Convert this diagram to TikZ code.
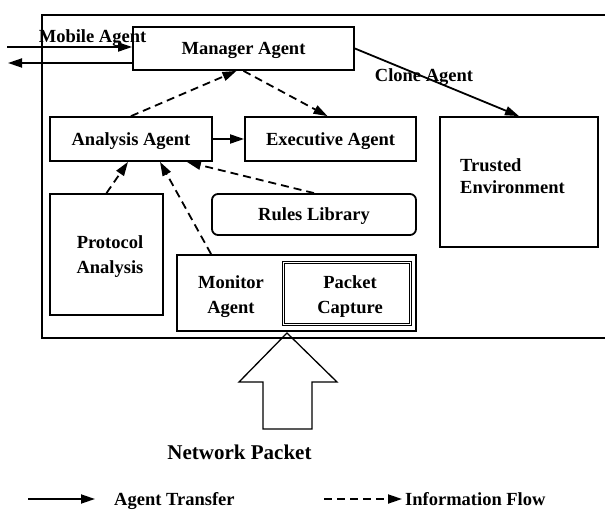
\documentclass[tikz,border=0pt]{standalone}
\usepackage{fontspec}
\setmainfont{Liberation Serif}
\usetikzlibrary{arrows.meta}
\newcommand\diagfont{\fontsize{18.5}{22}\selectfont\bfseries}
\begin{document}
\begin{tikzpicture}[x=1pt,y=-1pt,
  box/.style={draw, line width=1.8pt, inner sep=0pt, font=\diagfont,
              text height=12.5pt, text depth=0pt},
  lbl/.style={font=\diagfont, inner sep=0pt},
  twoline/.style={font=\fontsize{18.5}{24.8}\selectfont\bfseries, align=center, inner sep=0pt},
  transfer/.style={line width=1.8pt, -{Triangle[length=14pt,width=9pt]}},
  infoflow/.style={transfer, dash pattern=on 8pt off 5pt},
]
\path[use as bounding box, clip] (0,0) rectangle (605,510);

% system frame, open towards the right
\draw[line width=1.8pt] (42,15) rectangle (640,338);

% agents and components
\node[box, minimum width=221pt, minimum height=43pt] (manager) at (243.5,48.5) {Manager Agent};
\node[box, minimum width=162pt, minimum height=44pt] (analysis) at (131,139) {Analysis Agent};
\node[box, minimum width=171pt, minimum height=44pt] (executive) at (330.5,139) {Executive Agent};
\node[box, minimum width=158pt, minimum height=130pt] (trusted) at (519,182) {};
\node[twoline, align=left, anchor=west, font=\fontsize{18.5}{21.6}\selectfont\bfseries]
  (trustedtext) at (460,176.3) {Trusted\\Environment};
\node[box, minimum width=113pt, minimum height=121pt] (protocol) at (106.5,254.5) {};
\node[twoline] (protocoltext) at (110,256.7) {Protocol\\Analysis};
\node[box, rounded corners=6pt, minimum width=204pt, minimum height=41pt] (rules) at (314,214.5) {Rules Library};
\node[box, minimum width=239pt, minimum height=76pt] (monitor) at (296.5,293) {};
\node[twoline] (monitortext) at (231,296.5) {Monitor\\Agent};
\node[draw, double, line width=0.9pt, double distance=1.4pt, inner sep=0pt,
      minimum width=127pt, minimum height=62pt] (capture) at (347,293.5) {};
\node[twoline] (capturetext) at (350,296.5) {Packet\\Capture};

% agent transfer
\coordinate (inL) at (7,47);
\coordinate (outL) at (8,63);
\draw[transfer] (inL) -- (inL -| manager.west);
\draw[transfer] (outL -| manager.west) -- (outL);
\node[lbl, anchor=base] (mobile) at (92.5,43) {Mobile Agent};
\draw[transfer] (manager.east) -- (trusted.north);
\node[lbl, anchor=base] (clone) at (424,81.7) {Clone Agent};
\draw[transfer] (analysis.east) -- (executive.west);

% information flow
\draw[infoflow] (analysis.north) -- ([xshift=-7pt]manager.south);
\draw[infoflow] (manager.south) -- ([xshift=-3pt]executive.north);
\draw[infoflow] (protocol.north) -- ([xshift=-3pt]analysis.south);
\draw[infoflow] ([xshift=35pt]monitor.north west) -- ([xshift=29pt]analysis.south);
\draw[infoflow] (rules.north) -- ([xshift=-26pt]analysis.south east);

% incoming network packets
\draw[line width=1.3pt, line join=miter]
  (287,333) -- (337,382) -- (312,382) -- (312,429) -- (263,429) -- (263,382) -- (239,382) -- cycle;
\node[font=\fontsize{21}{25}\selectfont\bfseries, inner sep=0pt, anchor=base] (packet) at (239.5,459) {Network Packet};

% legend
\coordinate (lgA) at (28,499);
\coordinate (lgB) at (95,499);
\coordinate (lgC) at (324,499);
\coordinate (lgD) at (402,499);
\draw[transfer] (lgA) -- (lgB);
\node[lbl, anchor=base west] (lgtransfer) at (114,505) {Agent Transfer};
\draw[infoflow] (lgC) -- (lgD);
\node[lbl, anchor=base west] (lgflow) at (405,505) {Information Flow};
\end{tikzpicture}
\end{document}
